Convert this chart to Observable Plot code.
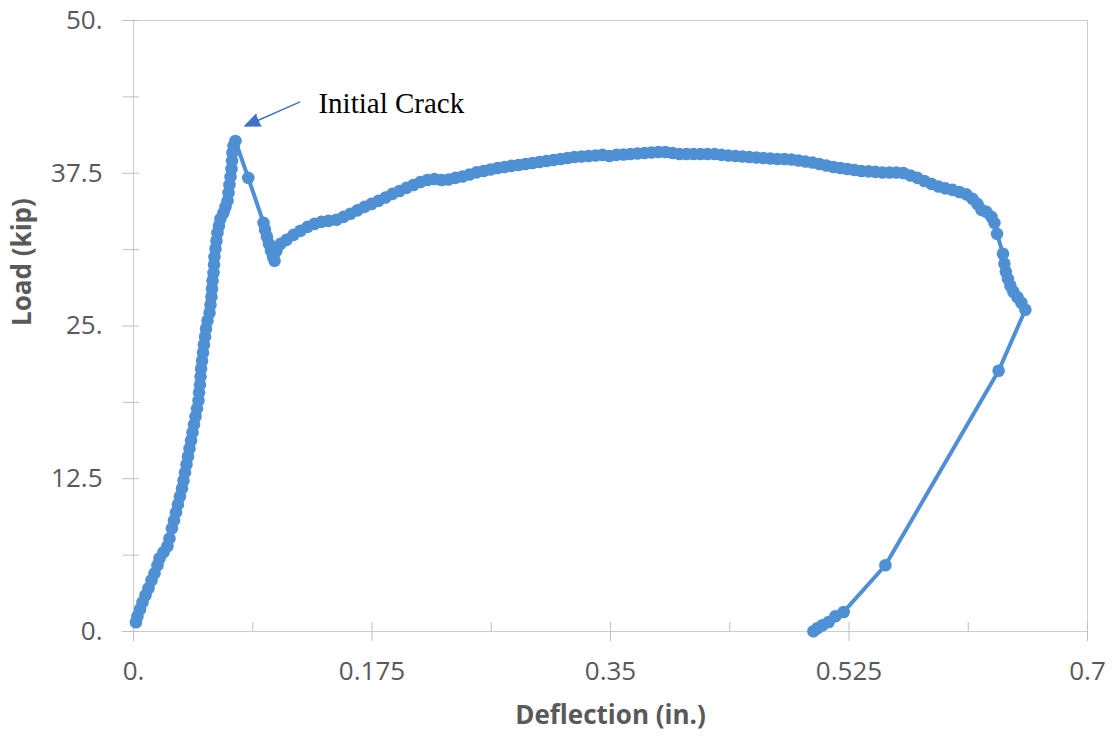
<!DOCTYPE html>
<html><head><meta charset="utf-8">
<script src="https://cdn.jsdelivr.net/npm/d3@7"></script>
<script src="https://cdn.jsdelivr.net/npm/@observablehq/plot@0.6"></script>
<style>html,body{margin:0;padding:0;background:#fff;} #chart svg{display:block}</style>
</head><body><div id="chart"></div>
<script>
// Deflection (in.) and Load (kip)
const deflection = [
0.0018,0.0029,0.0048,0.0066,0.0088,0.0110,0.0132,0.0154,0.0176,0.0191,
0.0220,0.0249,0.0264,0.0282,0.0297,0.0312,0.0326,0.0341,0.0356,0.0367,
0.0378,0.0389,0.0400,0.0411,0.0422,0.0433,0.0444,0.0455,0.0466,0.0477,
0.0481,0.0488,0.0492,0.0496,0.0503,0.0510,0.0517,0.0525,0.0532,0.0543,
0.0558,0.0565,0.0572,0.0576,0.0580,0.0587,0.0591,0.0594,0.0602,0.0609,
0.0616,0.0627,0.0638,0.0660,0.0675,0.0690,0.0697,0.0704,0.0712,0.0719,
0.0723,0.0726,0.0734,0.0748,
0.0842,0.0954,0.0965,0.0979,0.0994,0.1009,0.1024,0.1035,
0.1049,0.1079,0.1123,0.1174,0.1225,0.1277,0.1328,0.1379,0.1431,0.1489,
0.1541,0.1592,0.1643,0.1695,0.1746,0.1797,
0.1849,0.1900,0.1952,0.2003,0.2054,0.2105,0.2157,0.2208,0.2260,0.2311,
0.2362,0.2414,0.2465,0.2517,0.2568,0.2619,0.2671,0.2722,0.2773,0.2825,
0.2876,0.2927,0.2979,0.3030,0.3081,0.3133,0.3184,0.3235,0.3287,0.3338,
0.3390,0.3441,
0.3492,0.3544,0.3595,0.3646,0.3698,0.3749,0.3800,0.3852,0.3903,0.3955,
0.4006,0.4057,0.4109,0.4160,0.4211,0.4263,0.4314,0.4365,0.4417,0.4468,
0.4519,0.4571,0.4622,0.4673,0.4725,0.4776,0.4828,0.4879,0.4930,0.4982,
0.5033,0.5084,0.5136,0.5187,0.5238,0.5290,0.5341,0.5393,0.5444,0.5495,
0.5547,0.5598,0.5649,0.5701,0.5752,0.5803,0.5855,0.5906,0.5957,0.6009,
0.6060,0.6111,
0.6156,0.6192,0.6222,0.6258,0.6295,0.6317,0.6336,0.6380,0.6390,0.6401,
0.6416,0.6434,0.6456,0.6486,0.6515,0.6544,0.6348,0.5517,0.5211,0.5150,
0.5101,0.5055,0.5018,0.4989
];
const load = [
0.76,1.25,1.82,2.39,2.97,3.54,4.19,4.76,5.42,5.99,
6.48,6.97,7.62,8.44,9.09,9.75,10.40,11.06,11.71,12.36,
13.02,13.67,14.32,14.98,15.63,16.28,16.94,17.59,18.24,18.90,
19.55,20.20,20.86,21.51,22.16,22.82,23.47,24.13,24.78,25.43,
26.09,26.74,27.39,28.05,28.70,29.35,30.01,30.66,31.32,31.97,
32.62,33.20,33.77,34.26,34.75,35.24,35.89,36.54,37.20,37.85,
38.51,39.16,39.73,40.14,
37.12,33.44,32.87,32.30,31.72,31.15,30.66,30.34,
31.15,31.72,32.05,32.46,32.79,33.11,33.36,33.52,33.60,33.69,
33.93,34.18,34.46,34.75,34.99,35.24,
35.52,35.81,36.05,36.30,36.54,36.79,36.95,37.03,36.95,36.99,
37.12,37.24,37.40,37.57,37.69,37.81,37.93,38.01,38.10,38.18,
38.26,38.34,38.42,38.50,38.59,38.67,38.75,38.83,38.87,38.91,
38.95,39.00,
38.91,39.00,39.04,39.08,39.12,39.16,39.20,39.24,39.24,39.16,
39.08,39.08,39.08,39.08,39.08,39.08,39.00,38.95,38.91,38.87,
38.83,38.79,38.75,38.71,38.67,38.67,38.63,38.54,38.46,38.38,
38.26,38.14,38.01,37.93,37.85,37.77,37.69,37.65,37.61,37.56,
37.56,37.56,37.52,37.32,37.12,36.87,36.63,36.42,36.26,36.14,
35.97,35.77,
35.40,34.99,34.50,34.34,33.93,33.44,32.54,30.91,30.09,29.44,
28.86,28.29,27.80,27.35,26.90,26.33,21.34,5.42,1.60,1.25,
0.78,0.51,0.27,0.02
];

const xTicks = [0, 0.175, 0.35, 0.525, 0.7];
const xTickLabels = ["0.", "0.175", "0.35", "0.525", "0.7"];
const xMinorTicks = [0.0875, 0.2625, 0.4375, 0.6125];
const yTicks = [0, 12.5, 25, 37.5, 50];
const yTickLabels = ["0.", "12.5", "25.", "37.5", "50."];
const yMinorTicks = [6.25, 18.75, 31.25, 43.75];
const xTitle = ["Deflection (in.)"];
const yTitle = ["Load (kip)"];

// annotation
const noteText = ["Initial Crack"];
const noteX = [0.1357];
const noteY = [43.2];
const arrowFromX = [0.1218];
const arrowFromY = [43.32];
const arrowToX = [0.0818];
const arrowToY = [41.36];

const series = deflection.map((x, i) => ({x, y: load[i]}));
const notes = noteText.map((t, i) => ({t, x: noteX[i], y: noteY[i]}));
const arrows = arrowFromX.map((x1, i) => ({x1, y1: arrowFromY[i], x2: arrowToX[i], y2: arrowToY[i]}));

const blue = "#4f90d5";
const tickGray = "#bfbfbf";
const textGray = "#595959";

const chart = Plot.plot({
  width: 1120,
  height: 736,
  marginLeft: 133,
  marginRight: 33,
  marginTop: 20,
  marginBottom: 105,
  style: {fontFamily: "'Open Sans', sans-serif", fontSize: "26px", background: "#fff", color: textGray},
  x: {domain: [0, 0.7]},
  y: {domain: [0, 50]},
  marks: [
    Plot.frame({stroke: "#cccccc"}),
    Plot.axisX(xTicks, {tickSize: 10, tickPadding: 20, tickFormat: d => xTickLabels[xTicks.indexOf(d)], stroke: tickGray, fill: textGray, label: null}),
    Plot.axisX(xTicks.concat(xMinorTicks), {tickSize: -9, fill: "none", stroke: tickGray, label: null}),
    Plot.axisY(yTicks, {tickSize: 11, tickPadding: 20, tickFormat: d => yTickLabels[yTicks.indexOf(d)], stroke: tickGray, fill: textGray, label: null}),
    Plot.axisY(yMinorTicks, {tickSize: 10, fill: "none", stroke: tickGray, label: null}),
    Plot.axisY(yTicks.concat(yMinorTicks), {tickSize: -6, fill: "none", stroke: tickGray, label: null}),
    Plot.line(series, {x: "x", y: "y", stroke: blue, strokeWidth: 4}),
    Plot.dot(series, {x: "x", y: "y", r: 6.3, fill: blue}),
    Plot.arrow(arrows, {x1: "x1", y1: "y1", x2: "x2", y2: "y2", stroke: "#4472c4", fill: "#4472c4", strokeWidth: 1.5, headLength: 16, headAngle: 45}),
    Plot.text(notes, {x: "x", y: "y", text: "t", textAnchor: "start", fontFamily: "'Liberation Serif', serif", fontSize: 29, fill: "#000"}),
    Plot.text(xTitle, {frameAnchor: "bottom", dy: 92, text: d => d, fontWeight: "bold", fontSize: 26, fill: textGray}),
    Plot.text(yTitle, {frameAnchor: "left", dx: -111, rotate: -90, text: d => d, fontWeight: "bold", fontSize: 26, fill: textGray})
  ]
});
document.getElementById("chart").append(chart);
</script>
</body></html>
